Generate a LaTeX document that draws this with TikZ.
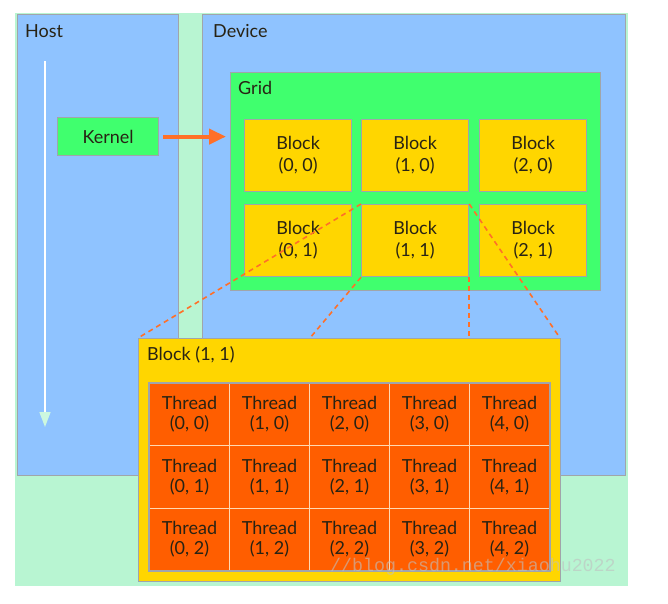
\documentclass[tikz,border=0pt]{standalone}
\usepackage{fontspec}
\setmainfont{Lato}
\newfontfamily\markfont{Liberation Mono}
\usetikzlibrary{arrows.meta,positioning,calc}
\definecolor{mintbg}{RGB}{184,245,210}
\definecolor{panelblue}{RGB}{143,195,255}
\definecolor{gridgreen}{RGB}{64,255,110}
\definecolor{blockgold}{RGB}{255,214,0}
\definecolor{threadorange}{RGB}{255,94,0}
\definecolor{edgegray}{RGB}{160,165,170}
\definecolor{dashorange}{RGB}{255,112,40}
\definecolor{inkdark}{RGB}{40,35,20}
\definecolor{markgray}{RGB}{192,192,192}

\begin{document}
\begin{tikzpicture}[x=1pt,y=-1pt, every node/.style={font=\fontsize{18}{22}\selectfont,text=inkdark,inner sep=0pt},
  area/.style={draw=edgegray,line width=1.2pt,anchor=north west},
  caption/.style={anchor=west},
  blockbox/.style={area,fill=blockgold,minimum width=107pt,minimum height=72pt,align=center},
  threadcell/.style={draw=orange!30,line width=1pt,fill=threadorange,anchor=north west,minimum width=80pt,minimum height=62.3pt,align=center,font=\fontsize{18}{20}\selectfont},
  fan/.style={dashorange,line width=1.6pt,dash pattern=on 5pt off 4pt},
  arr/.style={-{Triangle[length=17pt,width=15pt]},line width=4pt,dashorange}]
\useasboundingbox[fill=white] (0,0) rectangle (668,603);
\node[anchor=north west,fill=mintbg,minimum width=613pt,minimum height=573pt] (bg) at (15,13) {};
\node[area,fill=panelblue,minimum width=161pt,minimum height=461pt] (host) at (17,14) {};
\node[area,fill=panelblue,minimum width=423pt,minimum height=461pt] (device) at (202,14) {};
\node[caption] (hostlbl) at (25,31) {Host};
\node[caption] (devicelbl) at (213,31) {Device};
% time line on the host side
\coordinate (tstart) at (45,61);
\coordinate (tend) at (45,427);
\draw[white,line width=1.5pt,-{Triangle[length=15pt,width=11pt,color=mintbg!70!white]}] (tstart) -- (tend);
\node[area,fill=gridgreen,minimum width=370pt,minimum height=218pt] (grid) at (230,72) {};
\node[caption] (gridlbl) at (238,88) {Grid};
\node[area,fill=gridgreen,minimum width=101pt,minimum height=38pt] (kernel) at (57,117) {};
\node (kernellbl) at (kernel.center) {Kernel};
\draw[arr,shorten <=4pt,shorten >=4pt] (kernel.east) -- (grid.west |- kernel.east);
\foreach \c/\x in {0/244,1/361,2/479}{
  \foreach \r/\y in {0/119,1/204}{
    \node[blockbox] (b\c\r) at (\x,\y) {Block\\(\c, \r)};
  }
}
% zoom lines to the enlarged block
\coordinate (bigNW) at (138,338);
\coordinate (bigNE) at (560,338);
\coordinate (fanL) at (310,338);
\coordinate (fanR) at (b11.south east |- bigNW);
\foreach \a/\b in {b11.north west/bigNW,b11.north east/bigNE,b11.south west/fanL,b11.south east/fanR}{\draw[fan] (\a) -- (\b);}
\node[area,fill=blockgold,minimum width=422pt,minimum height=243pt] (big) at (bigNW) {};
\node[caption] (biglbl) at (147,355) {Block (1, 1)};
\foreach \c in {0,...,4}{
  \foreach \r in {0,1,2}{
    \node[threadcell] (t\c\r) at ({149+80*\c},{383+62.33*\r}) {Thread\\(\c, \r)};
  }
}
\draw[edgegray,line width=1.2pt] (t00.north west) rectangle (t42.south east);
\node[anchor=base west,font=\markfont\fontsize{18.3}{22}\selectfont,text=markgray,opacity=0.6] (mark) at (330,571) {//blog.csdn.net/xiaohu2022};
\end{tikzpicture}
\end{document}
